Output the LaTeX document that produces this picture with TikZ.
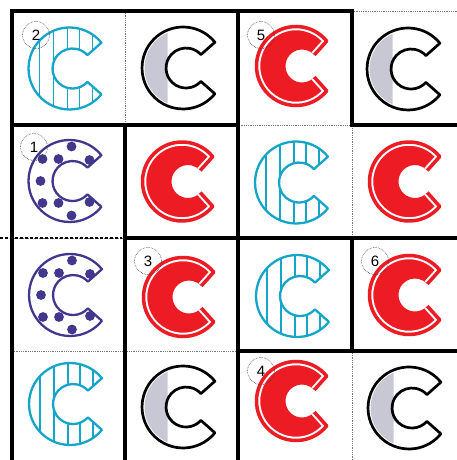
\documentclass[tikz,border=0pt]{standalone}
\usepackage{fontspec}
\setmainfont{Liberation Sans}
\definecolor{cc}{RGB}{20,165,200}
\definecolor{cr}{RGB}{237,28,36}
\definecolor{cp}{RGB}{65,55,140}
\definecolor{cg}{RGB}{200,200,212}
\definecolor{gl}{RGB}{120,120,120}
\newcommand\CStd{(31.9,-25.8) arc[start angle=-39,end angle=-321,radius=41] -- (17.9,13.4) arc[start angle=42,end angle=318,radius=20] -- cycle}
\newcommand\CRedFill{(30.7,-24.86) arc[start angle=-39,end angle=-321,radius=39.5] -- (18.26,11.04) arc[start angle=42,end angle=318,radius=16.5] -- cycle}
\newcommand\CRedLine{(18.26,-11.04) -- (30.7,-24.86) arc[start angle=-39,end angle=-321,radius=39.5] -- (18.26,11.04)}
\newcommand\cyanC[2]{\begin{scope}[shift={(#1,#2)}]
  \begin{scope}\clip \CStd;
    \foreach \sx in {-30,-16,-2,10,23} \draw[cc,line width=1.5pt] (\sx,-45) -- (\sx,45);
  \end{scope}
  \draw[cc,line width=2.3pt,line join=round] \CStd;
\end{scope}}
\newcommand\blackC[2]{\begin{scope}[shift={(#1,#2)}]
  \fill[cg] (-15.5,-35.2) arc[start angle=-113.8,end angle=-246.2,radius=38.5] -- cycle;
  \draw[black,line width=2.7pt,line join=round] \CStd;
\end{scope}}
\newcommand\redC[2]{\begin{scope}[shift={(#1,#2)}]
  \fill[cr] \CRedFill;
  \draw[white,line width=7.5pt,line join=round] \CRedLine;
  \draw[cr,line width=3.5pt,line join=round] \CRedLine;
\end{scope}}
\newcommand\purpleC[2]{\begin{scope}[shift={(#1,#2)}]
  \draw[cp,line width=2.3pt,line join=round] \CStd;
  \foreach \dx/\dy in {2/-34.5,-27/-22,-11/-22,20/-21,-29/0,-27/22,-11/22,20/21,2/34.5}
    \fill[cp] (\dx,\dy) circle[radius=4.9];
\end{scope}}
\tikzset{
  thingrid/.style={gl,line width=0.8pt,densely dotted},
  thickborder/.style={black,line width=4.8pt,line cap=rect,line join=miter},
  lab/.style={circle,draw=black!75,densely dotted,line width=0.6pt,minimum size=27pt,inner sep=0pt,font=\fontsize{15}{15}\selectfont},
}
\begin{document}
\begin{tikzpicture}[x=1pt,y=-1pt]
\useasboundingbox (0,0) rectangle (457,460);
\clip (0,0) rectangle (457,460);
\fill[white] (0,0) rectangle (457,460);
% thin dotted grid
\draw[thingrid] (352,11) -- (457,11);
\foreach \yy in {125,238,351} \draw[thingrid] (12,\yy) -- (457,\yy);
\foreach \xx in {125,238,352} \draw[thingrid] (\xx,11) -- (\xx,460);
% thick region borders
\draw[thickborder] (12,465) -- (12,11) -- (352,11) -- (352,125) -- (465,125);
\draw[thickborder] (12,125) -- (238,125);
\draw[thickborder] (125,125) -- (125,465);
\draw[thickborder] (238,11) -- (238,465);
\draw[thickborder] (125,238) -- (465,238);
\draw[thickborder] (352,238) -- (352,351);
\draw[thickborder] (238,351) -- (465,351);
\draw[black,line width=2.2pt,dash pattern=on 3pt off 2pt] (0,238) -- (122,238);
% letters
\cyanC{69.5}{68.5}
\blackC{183}{68}
\redC{296}{66}
\blackC{408}{69}
\purpleC{69.5}{181}
\redC{182}{181.5}
\cyanC{296}{182.5}
\redC{409}{181.5}
\purpleC{70}{295}
\redC{183}{297}
\cyanC{297}{296}
\redC{409}{295}
\cyanC{70}{404}
\blackC{183}{407}
\redC{296}{401}
\blackC{409}{408}
% labels
\node[lab] (n2) at (36,35) {2};
\node[lab] (n5) at (261,35) {5};
\node[lab] (n1) at (34,147) {1};
\node[lab] (n3) at (148,261) {3};
\node[lab] (n6) at (375,261) {6};
\node[lab] (n4) at (261,371) {4};
\end{tikzpicture}
\end{document}
